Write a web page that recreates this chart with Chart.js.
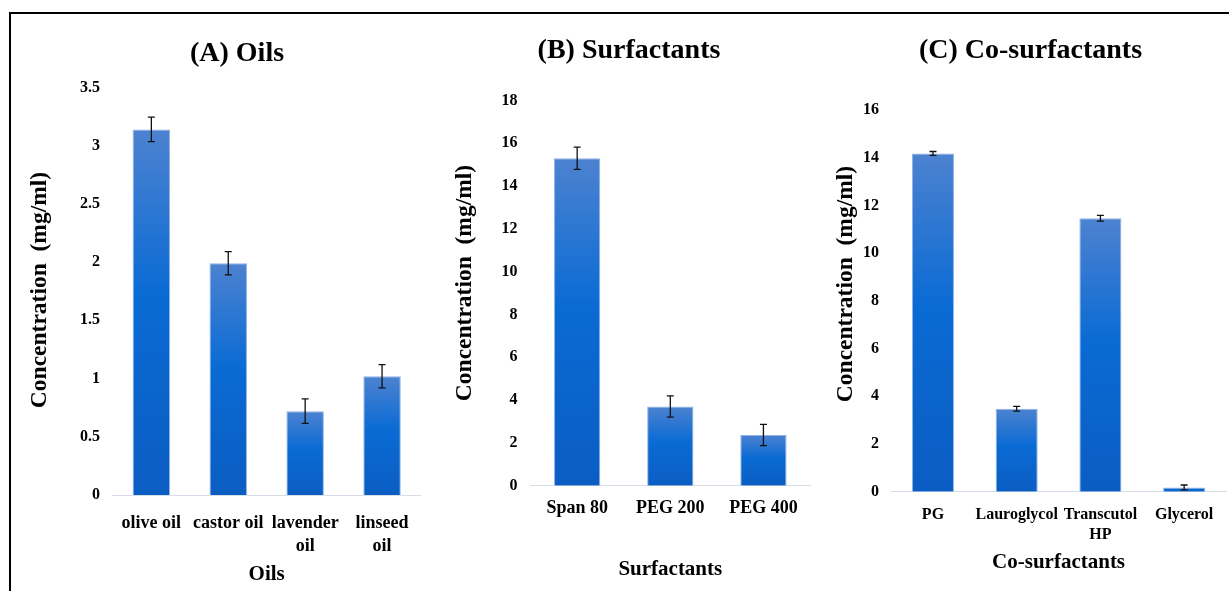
<!DOCTYPE html>
<html>
<head>
<meta charset="utf-8">
<script src="https://cdn.jsdelivr.net/npm/chart.js@4.4.1/dist/chart.umd.min.js"></script>
<style>
  body { margin: 0; background: #fff; }
  .page { position: relative; width: 1229px; height: 591px; overflow: hidden; }
  .frame { position: absolute; left: 9px; top: 12px; width: 1240px; height: 600px; border-top: 2px solid #000; border-left: 2px solid #000; }
  canvas { position: absolute; }
</style>
</head>
<body>
<div class="page">
  <div class="frame"></div>
  <canvas id="oilsChart" width="446" height="577" style="left:14px;top:14px"></canvas>
  <canvas id="surfChart" width="372" height="577" style="left:443px;top:14px"></canvas>
  <canvas id="coSurfChart" width="395" height="577" style="left:833px;top:14px"></canvas>
</div>
<script>
// solubility (mg/ml) with standard deviation
const oilNames = ['olive oil', 'castor oil', ['lavender', 'oil'], ['linseed', 'oil']];
const oilConc = [3.14, 1.99, 0.72, 1.02];
const oilErr = [0.105, 0.1, 0.105, 0.1];

const surfNames = ['Span 80', 'PEG 200', 'PEG 400'];
const surfConc = [15.3, 3.7, 2.37];
const surfErr = [0.52, 0.5, 0.5];

const coNames = ['PG', 'Lauroglycol', ['Transcutol', 'HP'], 'Glycerol'];
const coConc = [14.18, 3.48, 11.46, 0.18];
const coErr = [0.08, 0.1, 0.12, 0.1];

const yLabel = 'Concentration  (mg/ml)';

Chart.defaults.font.family = "'Liberation Serif', 'Times New Roman', serif";
Chart.defaults.font.weight = 'bold';
Chart.defaults.color = '#000';

// each bar gets its own top-to-bottom gradient
function barGradient(context) {
  const chart = context.chart;
  if (!chart.chartArea) return '#0a66cc';
  const y = chart.scales.y;
  const top = y.getPixelForValue(context.raw);
  const bottom = y.getPixelForValue(0);
  const g = chart.ctx.createLinearGradient(0, top, 0, bottom);
  g.addColorStop(0, '#4d82d0');
  g.addColorStop(0.45, '#0a6bd4');
  g.addColorStop(1, '#0b5dc2');
  return g;
}

const errorBars = {
  id: 'errorBars',
  afterDatasetsDraw(chart, args, opts) {
    const {ctx, scales: {y}} = chart;
    const values = chart.data.datasets[0].data;
    ctx.save();
    ctx.strokeStyle = '#111';
    ctx.lineWidth = 1.3;
    chart.getDatasetMeta(0).data.forEach((bar, i) => {
      const hi = y.getPixelForValue(values[i] + opts.errors[i]);
      const lo = y.getPixelForValue(values[i] - opts.errors[i]);
      ctx.beginPath();
      ctx.moveTo(bar.x, hi); ctx.lineTo(bar.x, lo);
      ctx.moveTo(bar.x - 3.5, hi); ctx.lineTo(bar.x + 3.5, hi);
      ctx.moveTo(bar.x - 3.5, lo); ctx.lineTo(bar.x + 3.5, lo);
      ctx.stroke();
    });
    ctx.restore();
  }
};

// rotated y-axis caption
const axisCaption = {
  id: 'axisCaption',
  afterDraw(chart, args, opts) {
    const ctx = chart.ctx;
    ctx.save();
    ctx.translate(opts.x, opts.y);
    ctx.rotate(-Math.PI / 2);
    ctx.font = "bold 23.5px 'Liberation Serif'";
    ctx.fillStyle = '#000';
    ctx.textAlign = 'center';
    ctx.textBaseline = 'middle';
    ctx.fillText(opts.text, 0, 0);
    ctx.restore();
  }
};

function panel(id, cfg) {
  return new Chart(document.getElementById(id), {
    type: 'bar',
    data: {
      labels: cfg.labels,
      datasets: [{
        data: cfg.values,
        backgroundColor: barGradient,
        borderColor: '#8fb3e6',
        borderWidth: 1,
        categoryPercentage: 1,
        barPercentage: cfg.barPct
      }]
    },
    options: {
      responsive: false,
      animation: false,
      layout: { padding: { left: cfg.side, right: cfg.side, top: 0, bottom: 0 } },
      plugins: {
        legend: { display: false },
        tooltip: { enabled: false },
        title: {
          display: true,
          text: cfg.title,
          color: '#000',
          font: { size: 28, weight: 'bold' },
          padding: cfg.titlePad
        },
        errorBars: { errors: cfg.errors },
        axisCaption: { text: yLabel, x: cfg.capX, y: cfg.capY }
      },
      scales: {
        x: {
          grid: { display: false, drawTicks: false },
          border: { color: '#d5dde9', width: 1 },
          ticks: {
            font: { size: cfg.tickSize, lineHeight: cfg.tickLine },
            padding: cfg.tickPad,
            maxRotation: 0,
            autoSkip: false
          },
          title: {
            display: true,
            text: cfg.xTitle,
            font: { size: 21 },
            padding: { top: 0, bottom: cfg.xTitlePad }
          },
          afterFit: s => { s.height = cfg.xHeight; }
        },
        y: {
          min: 0,
          max: cfg.max,
          grid: { display: false, drawTicks: false },
          border: { display: false },
          ticks: {
            stepSize: cfg.step,
            font: { size: 16 },
            padding: cfg.yPad,
            callback: v => String(v)
          },
          afterFit: s => { s.width = cfg.yWidth; }
        }
      }
    },
    plugins: [errorBars, axisCaption]
  });
}

panel('oilsChart', {
  labels: oilNames, values: oilConc, errors: oilErr,
  title: '(A) Oils', xTitle: 'Oils',
  max: 3.5, step: 0.5, barPct: 0.487,
  side: 39.5, yWidth: 59.4, yPad: 13,
  titlePad: { top: 22.5, bottom: 17.4 },
  xHeight: 96, xTitlePad: 3.4,
  tickSize: 18, tickLine: 1.28, tickPad: 16.5,
  capX: 26, capY: 276
});

panel('surfChart', {
  labels: surfNames, values: surfConc, errors: surfErr,
  title: '(B) Surfactants', xTitle: 'Surfactants',
  max: 18, step: 2, barPct: 0.497,
  side: 5, yWidth: 82.6, yPad: 13,
  titlePad: { top: 20.1, bottom: 32.8 },
  xHeight: 105.3, xTitlePad: 8.4,
  tickSize: 18, tickLine: 1.28, tickPad: 11.6,
  capX: 22, capY: 269
});

panel('coSurfChart', {
  labels: coNames, values: coConc, errors: coErr,
  title: '(C) Co-surfactants', xTitle: 'Co-surfactants',
  max: 16, step: 2, barPct: 0.502,
  side: 2, yWidth: 56.1, yPad: 12,
  titlePad: { top: 20.1, bottom: 42.3 },
  xHeight: 99.3, xTitlePad: 15.9,
  tickSize: 16, tickLine: 1.25, tickPad: 12.9,
  capX: 13, capY: 270
});
</script>
</body>
</html>
